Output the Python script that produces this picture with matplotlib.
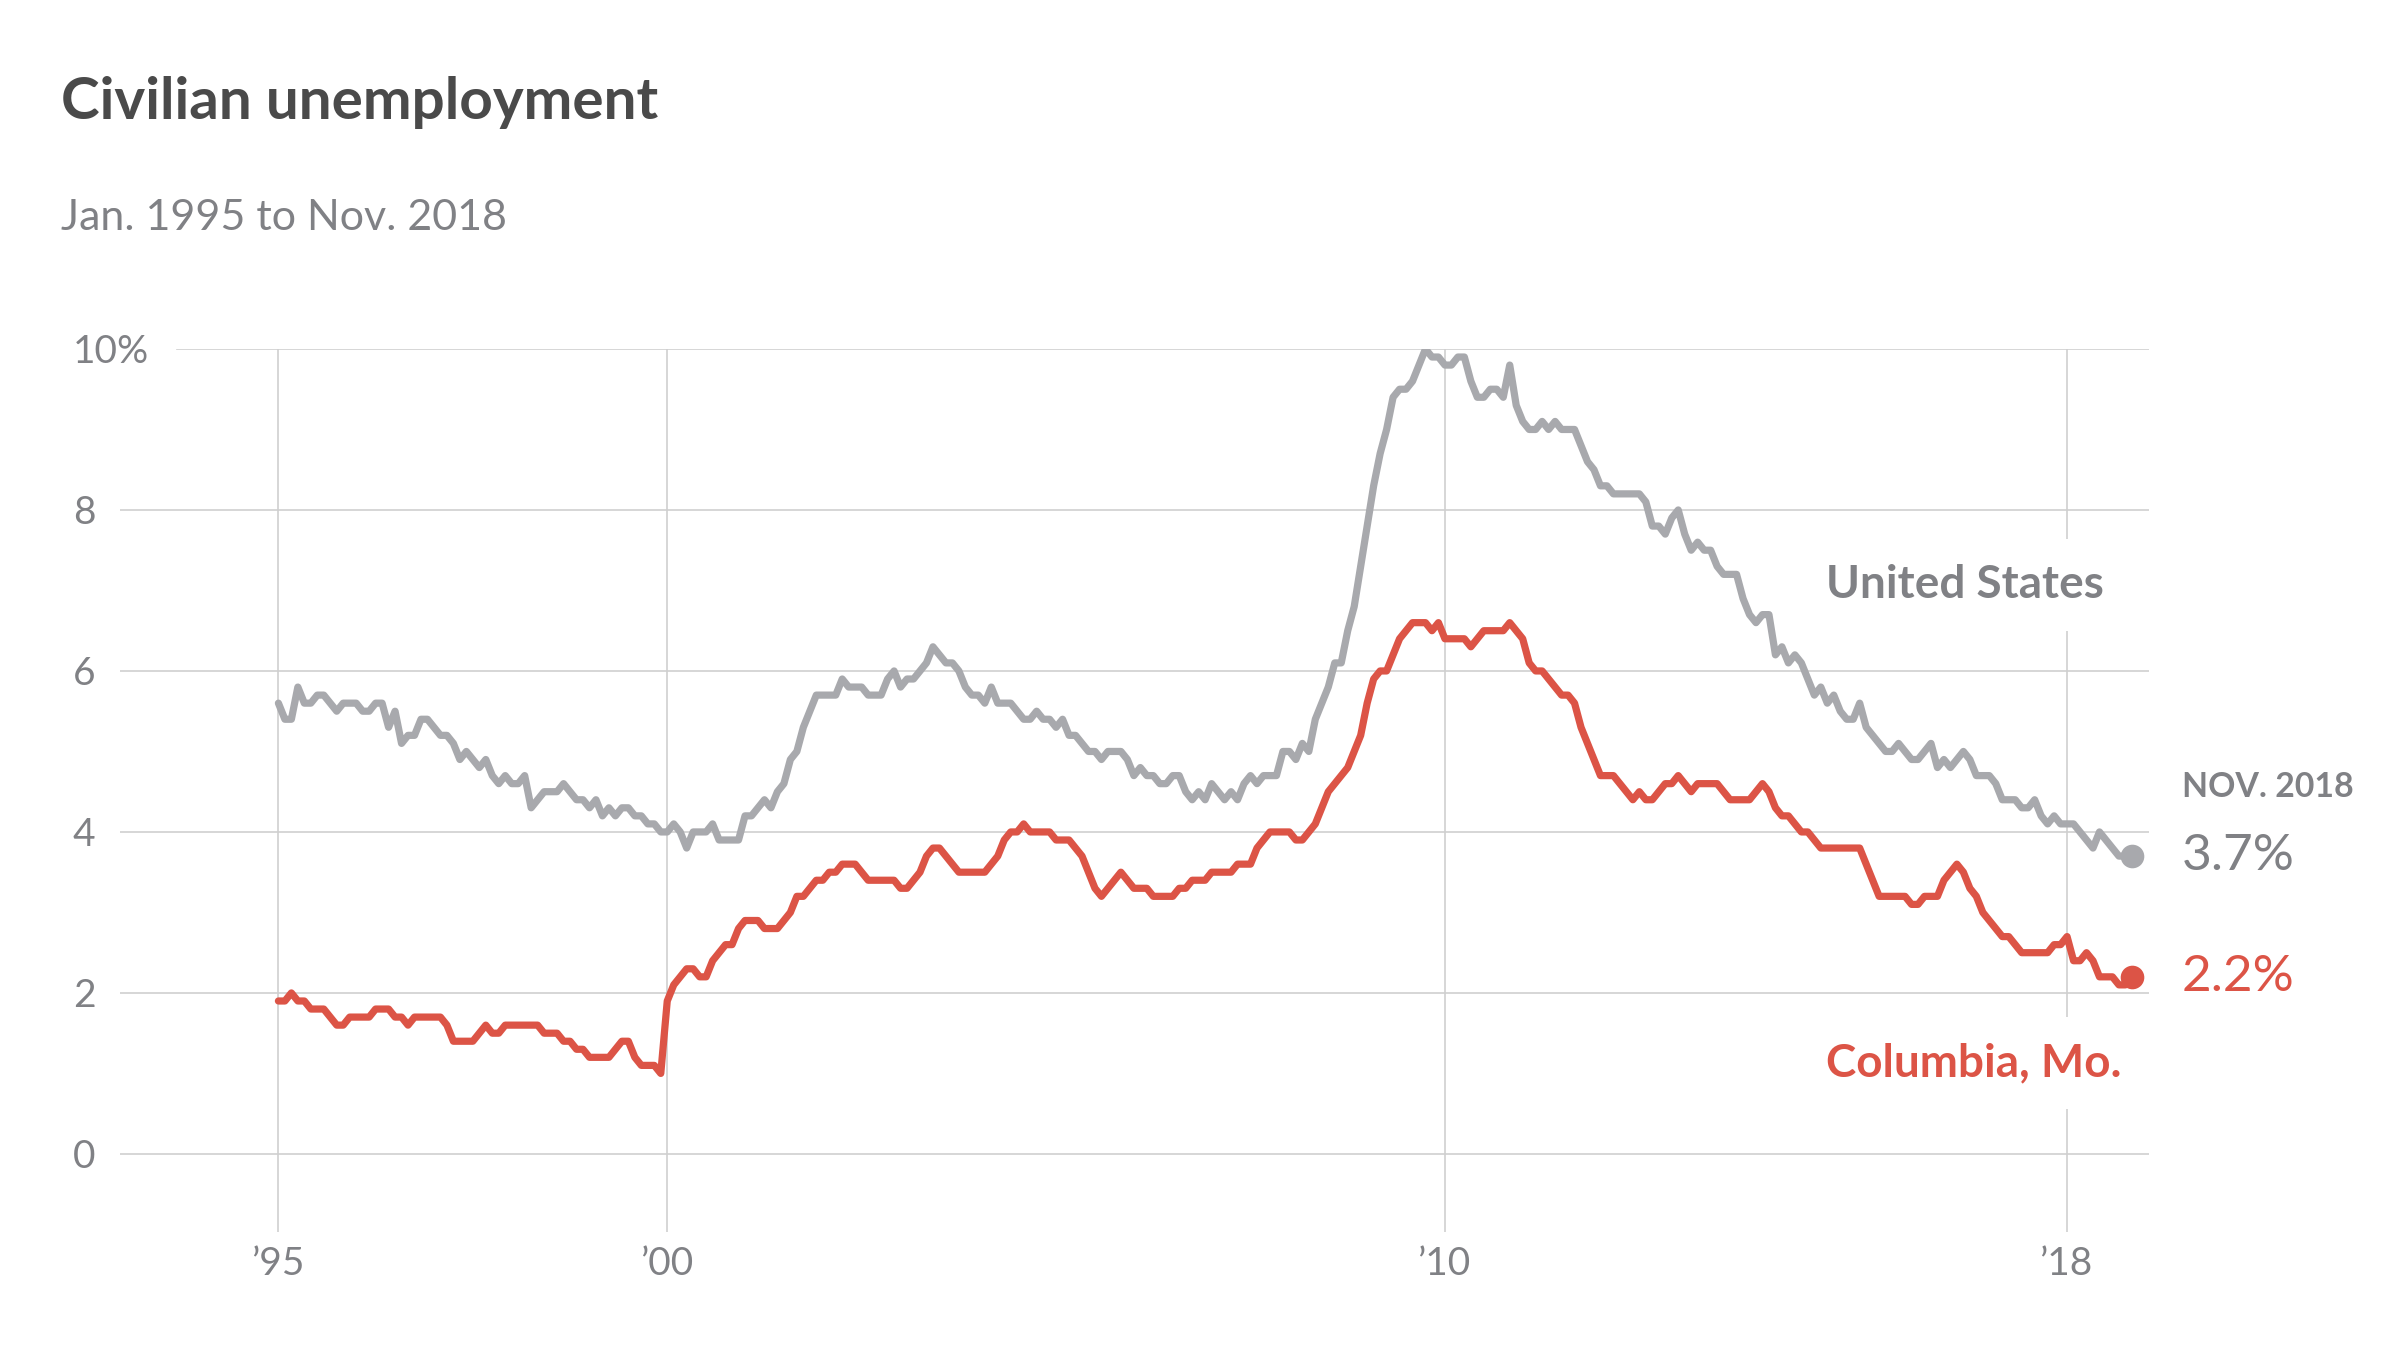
import numpy as np
import matplotlib
matplotlib.use("Agg")
import matplotlib.pyplot as plt

plt.rcParams['font.family'] = ['Lato', 'DejaVu Sans']

# monthly unemployment rate, Jan 1995 .. Nov 2018 (%)
us = [
    5.6, 5.4, 5.4, 5.8, 5.6, 5.6, 5.7, 5.7, 5.6, 5.5, 5.6, 5.6,  # 1995
    5.6, 5.5, 5.5, 5.6, 5.6, 5.3, 5.5, 5.1, 5.2, 5.2, 5.4, 5.4,  # 1996
    5.3, 5.2, 5.2, 5.1, 4.9, 5.0, 4.9, 4.8, 4.9, 4.7, 4.6, 4.7,  # 1997
    4.6, 4.6, 4.7, 4.3, 4.4, 4.5, 4.5, 4.5, 4.6, 4.5, 4.4, 4.4,  # 1998
    4.3, 4.4, 4.2, 4.3, 4.2, 4.3, 4.3, 4.2, 4.2, 4.1, 4.1, 4.0,  # 1999
    4.0, 4.1, 4.0, 3.8, 4.0, 4.0, 4.0, 4.1, 3.9, 3.9, 3.9, 3.9,  # 2000
    4.2, 4.2, 4.3, 4.4, 4.3, 4.5, 4.6, 4.9, 5.0, 5.3, 5.5, 5.7,  # 2001
    5.7, 5.7, 5.7, 5.9, 5.8, 5.8, 5.8, 5.7, 5.7, 5.7, 5.9, 6.0,  # 2002
    5.8, 5.9, 5.9, 6.0, 6.1, 6.3, 6.2, 6.1, 6.1, 6.0, 5.8, 5.7,  # 2003
    5.7, 5.6, 5.8, 5.6, 5.6, 5.6, 5.5, 5.4, 5.4, 5.5, 5.4, 5.4,  # 2004
    5.3, 5.4, 5.2, 5.2, 5.1, 5.0, 5.0, 4.9, 5.0, 5.0, 5.0, 4.9,  # 2005
    4.7, 4.8, 4.7, 4.7, 4.6, 4.6, 4.7, 4.7, 4.5, 4.4, 4.5, 4.4,  # 2006
    4.6, 4.5, 4.4, 4.5, 4.4, 4.6, 4.7, 4.6, 4.7, 4.7, 4.7, 5.0,  # 2007
    5.0, 4.9, 5.1, 5.0, 5.4, 5.6, 5.8, 6.1, 6.1, 6.5, 6.8, 7.3,  # 2008
    7.8, 8.3, 8.7, 9.0, 9.4, 9.5, 9.5, 9.6, 9.8, 10.0, 9.9, 9.9,  # 2009
    9.8, 9.8, 9.9, 9.9, 9.6, 9.4, 9.4, 9.5, 9.5, 9.4, 9.8, 9.3,  # 2010
    9.1, 9.0, 9.0, 9.1, 9.0, 9.1, 9.0, 9.0, 9.0, 8.8, 8.6, 8.5,  # 2011
    8.3, 8.3, 8.2, 8.2, 8.2, 8.2, 8.2, 8.1, 7.8, 7.8, 7.7, 7.9,  # 2012
    8.0, 7.7, 7.5, 7.6, 7.5, 7.5, 7.3, 7.2, 7.2, 7.2, 6.9, 6.7,  # 2013
    6.6, 6.7, 6.7, 6.2, 6.3, 6.1, 6.2, 6.1, 5.9, 5.7, 5.8, 5.6,  # 2014
    5.7, 5.5, 5.4, 5.4, 5.6, 5.3, 5.2, 5.1, 5.0, 5.0, 5.1, 5.0,  # 2015
    4.9, 4.9, 5.0, 5.1, 4.8, 4.9, 4.8, 4.9, 5.0, 4.9, 4.7, 4.7,  # 2016
    4.7, 4.6, 4.4, 4.4, 4.4, 4.3, 4.3, 4.4, 4.2, 4.1, 4.2, 4.1,  # 2017
    4.1, 4.1, 4.0, 3.9, 3.8, 4.0, 3.9, 3.8, 3.7, 3.7, 3.7,       # 2018
]

columbia = [
    1.9, 1.9, 2.0, 1.9, 1.9, 1.8, 1.8, 1.8, 1.7, 1.6, 1.6, 1.7,  # 1995
    1.7, 1.7, 1.7, 1.8, 1.8, 1.8, 1.7, 1.7, 1.6, 1.7, 1.7, 1.7,  # 1996
    1.7, 1.7, 1.6, 1.4, 1.4, 1.4, 1.4, 1.5, 1.6, 1.5, 1.5, 1.6,  # 1997
    1.6, 1.6, 1.6, 1.6, 1.6, 1.5, 1.5, 1.5, 1.4, 1.4, 1.3, 1.3,  # 1998
    1.2, 1.2, 1.2, 1.2, 1.3, 1.4, 1.4, 1.2, 1.1, 1.1, 1.1, 1.0,  # 1999
    1.9, 2.1, 2.2, 2.3, 2.3, 2.2, 2.2, 2.4, 2.5, 2.6, 2.6, 2.8,  # 2000
    2.9, 2.9, 2.9, 2.8, 2.8, 2.8, 2.9, 3.0, 3.2, 3.2, 3.3, 3.4,  # 2001
    3.4, 3.5, 3.5, 3.6, 3.6, 3.6, 3.5, 3.4, 3.4, 3.4, 3.4, 3.4,  # 2002
    3.3, 3.3, 3.4, 3.5, 3.7, 3.8, 3.8, 3.7, 3.6, 3.5, 3.5, 3.5,  # 2003
    3.5, 3.5, 3.6, 3.7, 3.9, 4.0, 4.0, 4.1, 4.0, 4.0, 4.0, 4.0,  # 2004
    3.9, 3.9, 3.9, 3.8, 3.7, 3.5, 3.3, 3.2, 3.3, 3.4, 3.5, 3.4,  # 2005
    3.3, 3.3, 3.3, 3.2, 3.2, 3.2, 3.2, 3.3, 3.3, 3.4, 3.4, 3.4,  # 2006
    3.5, 3.5, 3.5, 3.5, 3.6, 3.6, 3.6, 3.8, 3.9, 4.0, 4.0, 4.0,  # 2007
    4.0, 3.9, 3.9, 4.0, 4.1, 4.3, 4.5, 4.6, 4.7, 4.8, 5.0, 5.2,  # 2008
    5.6, 5.9, 6.0, 6.0, 6.2, 6.4, 6.5, 6.6, 6.6, 6.6, 6.5, 6.6,  # 2009
    6.4, 6.4, 6.4, 6.4, 6.3, 6.4, 6.5, 6.5, 6.5, 6.5, 6.6, 6.5,  # 2010
    6.4, 6.1, 6.0, 6.0, 5.9, 5.8, 5.7, 5.7, 5.6, 5.3, 5.1, 4.9,  # 2011
    4.7, 4.7, 4.7, 4.6, 4.5, 4.4, 4.5, 4.4, 4.4, 4.5, 4.6, 4.6,  # 2012
    4.7, 4.6, 4.5, 4.6, 4.6, 4.6, 4.6, 4.5, 4.4, 4.4, 4.4, 4.4,  # 2013
    4.5, 4.6, 4.5, 4.3, 4.2, 4.2, 4.1, 4.0, 4.0, 3.9, 3.8, 3.8,  # 2014
    3.8, 3.8, 3.8, 3.8, 3.8, 3.6, 3.4, 3.2, 3.2, 3.2, 3.2, 3.2,  # 2015
    3.1, 3.1, 3.2, 3.2, 3.2, 3.4, 3.5, 3.6, 3.5, 3.3, 3.2, 3.0,  # 2016
    2.9, 2.8, 2.7, 2.7, 2.6, 2.5, 2.5, 2.5, 2.5, 2.5, 2.6, 2.6,  # 2017
    2.7, 2.4, 2.4, 2.5, 2.4, 2.2, 2.2, 2.2, 2.1, 2.1, 2.2,       # 2018
]

year_ticks = [1995, 2000, 2010, 2018]
year_labels = ['\u201995', '\u201900', '\u201910', '\u201918']
pct_ticks = [0, 2, 4, 6, 8, 10]
pct_labels = ['0', '2', '4', '6', '8', '10%']

RED = '#dc5446'
GRAY = '#a8a9ad'
TXT = '#808185'
GRID = '#cfcfcf'

months = 1995 + np.arange(len(us)) / 12.0

fig = plt.figure(figsize=(12, 6.75), dpi=200)
ax = fig.add_axes([0.05, 0.0874, 0.8454, 0.6541])
ax.set_xlim(1992.963, 2019.053)
ax.set_ylim(-0.97, 10)

for s in ax.spines.values():
    s.set_visible(False)

# horizontal grid, the top one is shortened so it clears the "10%" label
for v in pct_ticks:
    ax.axhline(v, xmin=0.028 if v == 10 else 0, color=GRID, lw=0.6, zorder=1)
for yr in year_ticks:
    ax.axvline(yr, color=GRID, lw=0.6, zorder=1)

ax.set_xticks(year_ticks)
ax.set_xticklabels(year_labels)
ax.set_yticks(pct_ticks)
ax.set_yticklabels(pct_labels)
ax.tick_params(axis='both', length=0, labelsize=14, labelcolor=TXT)
ax.tick_params(axis='x', pad=5)
ax.tick_params(axis='y', pad=17)
for lab in ax.get_yticklabels():
    lab.set_horizontalalignment('left')

ax.plot(months[:-1], us[:-1], color=GRAY, lw=2.6, zorder=3,
        solid_joinstyle='round', solid_capstyle='round')
ax.plot(months[:-1], columbia[:-1], color=RED, lw=2.6, zorder=3,
        solid_joinstyle='round', solid_capstyle='round')
ax.plot(months[-1], us[-1], 'o', color=GRAY, ms=7.5, zorder=4, clip_on=False)
ax.plot(months[-1], columbia[-1], 'o', color=RED, ms=7.5, zorder=4, clip_on=False)

# series labels, white box cuts the '18 grid line
box = dict(boxstyle='square,pad=0.55', fc='white', ec='none')
ax.text(2014.9, 7.07, 'United States', color=TXT, fontsize=16.5,
        fontweight='bold', va='center', ha='left', bbox=box, zorder=2)
ax.text(2014.9, 1.13, 'Columbia, Mo.', color=RED, fontsize=16.5,
        fontweight='bold', va='center', ha='left', bbox=box, zorder=2)

# end values
ax.annotate('NOV. 2018', xy=(months[-1], us[-1]), xytext=(18, 25),
            textcoords='offset points', color=TXT, fontsize=12.2,
            fontweight='bold', va='center', ha='left', annotation_clip=False)
ax.annotate('%.1f%%' % us[-1], xy=(months[-1], us[-1]), xytext=(18, 0),
            textcoords='offset points', color=TXT, fontsize=18.5,
            va='center', ha='left', annotation_clip=False)
ax.annotate('%.1f%%' % columbia[-1], xy=(months[-1], columbia[-1]), xytext=(18, 0),
            textcoords='offset points', color=RED, fontsize=18.5,
            va='center', ha='left', annotation_clip=False)

fig.text(0.0254, 1 - 119 / 1350, 'Civilian unemployment', color='#4a4a4a',
         fontsize=21, fontweight='bold', va='baseline', ha='left')
fig.text(0.0254, 1 - 230 / 1350, 'Jan. 1995 to Nov. 2018', color=TXT,
         fontsize=15.5, va='baseline', ha='left')

fig.savefig('out.png', dpi=200, facecolor='white')
